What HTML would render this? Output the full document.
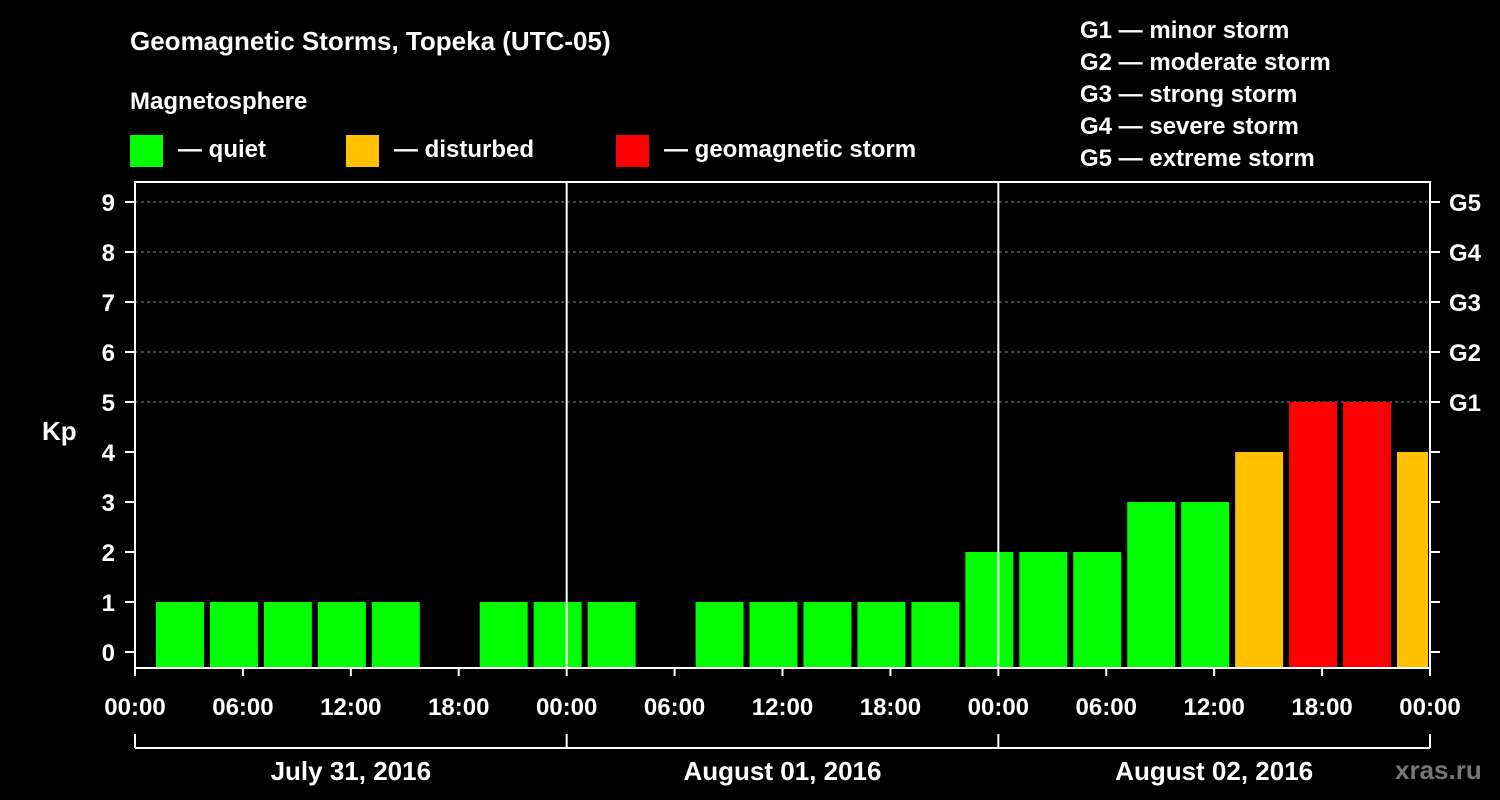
<!DOCTYPE html>
<html><head><meta charset="utf-8"><style>
html,body{margin:0;padding:0;background:#000;}
svg{display:block;font-family:"Liberation Sans",Arial,sans-serif;font-weight:bold;}
</style></head><body>
<svg width="1500" height="800" viewBox="0 0 1500 800">
<rect width="1500" height="800" fill="#000"/>
<text x="130" y="50" fill="#fff" font-size="26">Geomagnetic Storms, Topeka (UTC-05)</text>
<text x="130" y="109" fill="#fff" font-size="24">Magnetosphere</text>
<g><rect x="130" y="135" width="33" height="32" fill="#00ff00"/><text x="178" y="157" fill="#fff" font-size="24">— quiet</text></g>
<g><rect x="346" y="135" width="33" height="32" fill="#ffc000"/><text x="394" y="157" fill="#fff" font-size="24">— disturbed</text></g>
<g><rect x="616" y="135" width="33" height="32" fill="#ff0000"/><text x="664" y="157" fill="#fff" font-size="24">— geomagnetic storm</text></g>
<g fill="#fff" font-size="24">
<text x="1080" y="38">G1 — minor storm</text><text x="1080" y="70">G2 — moderate storm</text><text x="1080" y="102">G3 — strong storm</text><text x="1080" y="134">G4 — severe storm</text><text x="1080" y="166">G5 — extreme storm</text></g>
<text x="42" y="440" fill="#fff" font-size="26">Kp</text>
<text x="1395" y="779" fill="#777" font-size="26">xras.ru</text>
<g id="grid"></g><g id="bars"></g><g id="axes"></g>
</svg>
<script>
const kpValues=[1,1,1,1,1,null,1,1,1,null,1,1,1,1,1,2,2,2,3,3,4,5,5,4];
const slotStartHours=[1,4,7,10,13,16,19,22,25,28,31,34,37,40,43,46,49,52,55,58,61,64,67,70];
const yTicks=[0,1,2,3,4,5,6,7,8,9];
const gLabels=["","","","","","G1","G2","G3","G4","G5"];
const xTickLabels=["00:00","06:00","12:00","18:00","00:00","06:00","12:00","18:00","00:00","06:00","12:00","18:00","00:00"];
const dayLabels=["July 31, 2016","August 01, 2016","August 02, 2016"];
const L=135,R=1430,T=182,B=668,H=72;
const xs=h=>L+(R-L)*h/H, ys=v=>652-50*v;
const NS="http://www.w3.org/2000/svg";
function mk(p,tag,a,txt){const e=document.createElementNS(NS,tag);for(const k in a)e.setAttribute(k,a[k]);if(txt!==undefined)e.textContent=txt;p.appendChild(e);return e;}
const grid=document.getElementById('grid'),bars=document.getElementById('bars'),axes=document.getElementById('axes');
yTicks.forEach(v=>{if(v>=5){const l=mk(grid,'line',{x1:L,x2:R,y1:ys(v),y2:ys(v),stroke:'#888','stroke-dasharray':'3,3','stroke-width':1});

}});
kpValues.forEach((v,i)=>{if(v===null)return;const x0=xs(slotStartHours[i])+3,x1=Math.min(xs(slotStartHours[i]+3)-3,R-2);
const c=v>=5?'#ff0000':(v>=4?'#ffc000':'#00ff00');
const r=mk(bars,'rect',{x:x0,y:ys(v),width:x1-x0,height:B-ys(v),fill:c});

});
const fr=mk(axes,'rect',{x:L,y:T,width:R-L,height:B-T,fill:'none',stroke:'#fff','stroke-width':2});


[24,48].forEach(h=>{const l=mk(axes,'line',{x1:xs(h),x2:xs(h),y1:T,y2:B,stroke:'#fff','stroke-width':2});

});
yTicks.forEach((v,i)=>{const y=ys(v);
mk(axes,'line',{x1:L-10,x2:L,y1:y,y2:y,stroke:'#fff','stroke-width':2});
mk(axes,'line',{x1:R,x2:R+10,y1:y,y2:y,stroke:'#fff','stroke-width':2});
const t=mk(axes,'text',{x:115,y:y+9,fill:'#fff','font-size':24,'text-anchor':'end'},String(v));


if(gLabels[i]){const g=mk(axes,'text',{x:1449,y:y+9,fill:'#fff','font-size':24},gLabels[i]);

}});
xTickLabels.forEach((s,i)=>{const x=xs(i*6);
mk(axes,'line',{x1:x,x2:x,y1:B,y2:B+8,stroke:'#fff','stroke-width':2});
const t=mk(axes,'text',{x:x,y:715,fill:'#fff','font-size':24,'text-anchor':'middle'},s);

});
mk(axes,'line',{x1:L,x2:R,y1:748,y2:748,stroke:'#fff','stroke-width':2});
[0,24,48,72].forEach(h=>mk(axes,'line',{x1:xs(h),x2:xs(h),y1:734,y2:748,stroke:'#fff','stroke-width':2}));
dayLabels.forEach((s,i)=>{const t=mk(axes,'text',{x:xs(i*24+12),y:780,fill:'#fff','font-size':26,'text-anchor':'middle'},s);

});
</script>
</body></html>
